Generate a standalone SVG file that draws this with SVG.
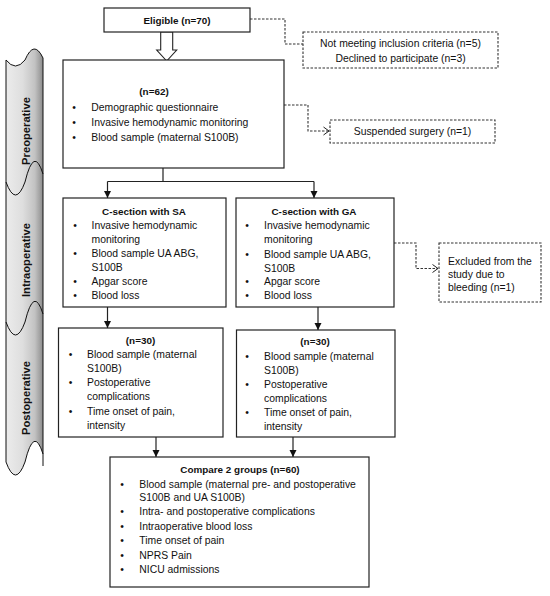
<svg xmlns="http://www.w3.org/2000/svg" width="550" height="596" viewBox="0 0 550 596">
<defs>
<linearGradient id="band" x1="0" y1="0" x2="1" y2="0">
<stop offset="0" stop-color="#ececec"/>
<stop offset="0.45" stop-color="#dedede"/>
<stop offset="0.78" stop-color="#c2c2c2"/>
<stop offset="1" stop-color="#8c8c8c"/>
</linearGradient>
<marker id="ah" markerUnits="userSpaceOnUse" markerWidth="8" markerHeight="8" refX="7" refY="4" orient="auto">
<path d="M0,0.5 L7,4 L0,7.5 Z" fill="#111"/>
</marker>
<marker id="oh" markerUnits="userSpaceOnUse" markerWidth="8" markerHeight="10" refX="6.5" refY="5" orient="auto">
<path d="M1,1 L6.5,5 L1,9" fill="none" stroke="#222" stroke-width="1"/>
</marker>
</defs>
<style>
text{font-family:"Liberation Sans",Arial,sans-serif;font-size:10.4px;fill:#111}
.t{font-weight:bold;font-size:9.9px;text-anchor:middle}
.c{text-anchor:middle}
.b{text-anchor:middle}
.ph{font-weight:bold;font-size:11.2px;text-anchor:middle;dominant-baseline:central}
.box{fill:#fff;stroke:#222;stroke-width:1.2}
.dbox{fill:#fff;stroke:#333;stroke-width:1.1;stroke-dasharray:2.5,1.5}
.ln{fill:none;stroke:#222;stroke-width:1.2}
.dl{fill:none;stroke:#333;stroke-width:1.1;stroke-dasharray:2.5,1.5}
.jn{fill:none;stroke:#111;stroke-width:1}
</style>
<rect width="550" height="596" fill="#fff"/>

<g id="phase-banner">
<path d="M6,60 Q15.5,72 25,60 Q34,39 43,58 L43,454 Q34,425 25,462 Q15.5,488 6,462 Z" fill="url(#band)" stroke="#111" stroke-width="1"/>
<path class="jn" d="M6,182 Q15.5,208 25,182 Q34,145 43,174"/>
<path class="jn" d="M6,322 Q15.5,348 25,322 Q34,285 43,314"/>
<path class="jn" d="M43,454 L43,466"/>
<text class="ph" transform="translate(25.5,131) rotate(-90)">Preoperative</text>
<text class="ph" transform="translate(25.5,260) rotate(-90)">Intraoperative</text>
<text class="ph" transform="translate(25.5,398) rotate(-90)">Postoperative</text>
</g>

<g id="connectors">
<polygon points="160.7,32 172.7,32 172.7,50 176.7,50 166.7,61 156.7,50 160.7,50" fill="#fff" stroke="#222" stroke-width="1.1"/>
<path class="dl" d="M250,19 H285 V44 H303"/>
<path class="dl" d="M284,105 H308 V131 H329" marker-end="url(#oh)"/>
<path class="ln" d="M163,168 V181.5 M107.5,181.5 H314"/>
<path class="ln" d="M107.5,181.5 V198" marker-end="url(#ah)"/>
<path class="ln" d="M314,181.5 V198" marker-end="url(#ah)"/>
<path class="dl" d="M394,243 H416 V268.5 H438" marker-end="url(#oh)"/>
<path class="ln" d="M107.5,307 V328" marker-end="url(#ah)"/>
<path class="ln" d="M318,307 V330" marker-end="url(#ah)"/>
<path class="ln" d="M156,437 V457" marker-end="url(#ah)"/>
<path class="ln" d="M293,437 V457" marker-end="url(#ah)"/>
</g>

<g id="eligible">
<rect class="box" x="104" y="8" width="146" height="24"/>
<text class="t" x="177" y="23.5">Eligible (n=70)</text>
</g>

<g id="excluded-initial">
<rect class="dbox" x="303" y="32" width="195" height="36"/>
<text class="c" x="400.5" y="46.6">Not meeting inclusion criteria (n=5)</text>
<text class="c" x="400.5" y="61.6">Declined to participate (n=3)</text>
</g>

<g id="preoperative">
<rect class="box" x="63" y="60" width="221" height="108"/>
<text class="t" x="154" y="95.3">(n=62)</text>
<text class="b" x="74" y="110.6">•</text><text x="91.3" y="110.6">Demographic questionnaire</text>
<text class="b" x="74" y="126.3">•</text><text x="91.3" y="126.3">Invasive hemodynamic monitoring</text>
<text class="b" x="74" y="141.3">•</text><text x="91.3" y="141.3">Blood sample (maternal S100B)</text>
</g>

<g id="suspended">
<rect class="dbox" x="330" y="120" width="165" height="23"/>
<text class="c" x="412.5" y="135">Suspended surgery (n=1)</text>
</g>

<g id="sa">
<rect class="box" x="63" y="198" width="163" height="109"/>
<text class="t" x="144" y="214.5">C-section with SA</text>
<text class="b" x="75" y="228.6">•</text><text x="91.5" y="228.6">Invasive hemodynamic</text>
<text x="91.5" y="242.6">monitoring</text>
<text class="b" x="75" y="257.1">•</text><text x="91.5" y="257.1">Blood sample UA ABG,</text>
<text x="91.5" y="271.1">S100B</text>
<text class="b" x="75" y="284.6">•</text><text x="91.5" y="284.6">Apgar score</text>
<text class="b" x="75" y="298.6">•</text><text x="91.5" y="298.6">Blood loss</text>
</g>

<g id="ga">
<rect class="box" x="236" y="198" width="158" height="109"/>
<text class="t" x="314" y="214.5">C-section with GA</text>
<text class="b" x="247" y="229.3">•</text><text x="264" y="229.3">Invasive hemodynamic</text>
<text x="264" y="243.3">monitoring</text>
<text class="b" x="247" y="257.6">•</text><text x="264" y="257.6">Blood sample UA ABG,</text>
<text x="264" y="271.6">S100B</text>
<text class="b" x="247" y="285.3">•</text><text x="264" y="285.3">Apgar score</text>
<text class="b" x="247" y="299.3">•</text><text x="264" y="299.3">Blood loss</text>
</g>

<g id="excluded-bleeding">
<rect class="dbox" x="439" y="243" width="102" height="59"/>
<text x="448" y="264.6">Excluded from the</text>
<text x="448" y="277.6">study due to</text>
<text x="448" y="290.9">bleeding (n=1)</text>
</g>

<g id="post-sa">
<rect class="box" x="58.5" y="328" width="164.5" height="109"/>
<text class="t" x="140.5" y="344.3">(n=30)</text>
<text class="b" x="70.5" y="357.9">•</text><text x="87" y="357.9">Blood sample (maternal</text>
<text x="87" y="371.9">S100B)</text>
<text class="b" x="70.5" y="386.3">•</text><text x="87" y="386.3">Postoperative</text>
<text x="87" y="400.3">complications</text>
<text class="b" x="70.5" y="414.6">•</text><text x="87" y="414.6">Time onset of pain,</text>
<text x="87" y="428.6">intensity</text>
</g>

<g id="post-ga">
<rect class="box" x="236.5" y="330" width="158.5" height="107"/>
<text class="t" x="315" y="345.3">(n=30)</text>
<text class="b" x="247" y="359.6">•</text><text x="264" y="359.6">Blood sample (maternal</text>
<text x="264" y="373.6">S100B)</text>
<text class="b" x="247" y="387.6">•</text><text x="264" y="387.6">Postoperative</text>
<text x="264" y="401.9">complications</text>
<text class="b" x="247" y="415.9">•</text><text x="264" y="415.9">Time onset of pain,</text>
<text x="264" y="430.3">intensity</text>
</g>

<g id="compare">
<rect class="box" x="110" y="457" width="259" height="130"/>
<text class="t" x="240" y="472.9">Compare 2 groups (n=60)</text>
<text class="b" x="122" y="487.6">•</text><text x="139.3" y="487.6">Blood sample (maternal pre- and postoperative</text>
<text x="139.3" y="501.3">S100B and UA S100B)</text>
<text class="b" x="122" y="515.3">•</text><text x="139.3" y="515.3">Intra- and postoperative complications</text>
<text class="b" x="122" y="529.9">•</text><text x="139.3" y="529.9">Intraoperative blood loss</text>
<text class="b" x="122" y="543.9">•</text><text x="139.3" y="543.9">Time onset of pain</text>
<text class="b" x="122" y="558.6">•</text><text x="139.3" y="558.6">NPRS Pain</text>
<text class="b" x="122" y="572.9">•</text><text x="139.3" y="572.9">NICU admissions</text>
</g>
</svg>
